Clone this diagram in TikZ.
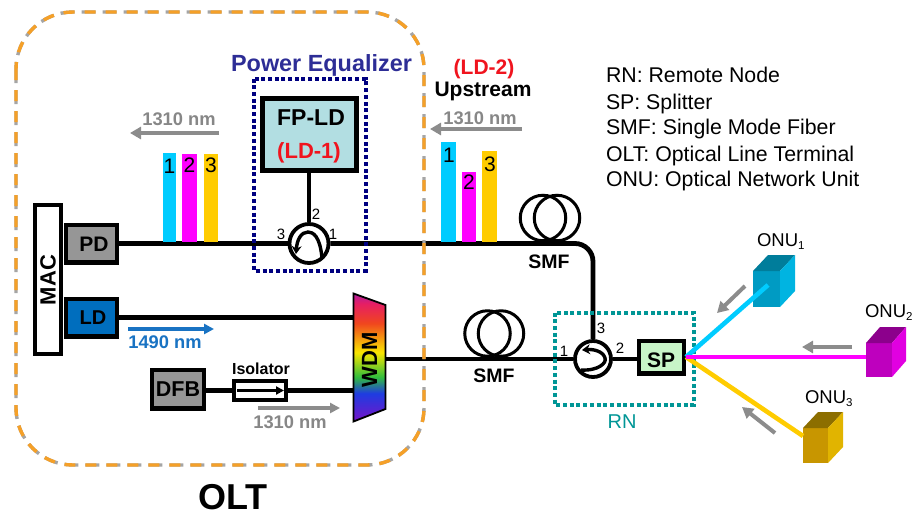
\documentclass[tikz,border=0pt]{standalone}
\usepackage{fontspec}
\setmainfont{Liberation Sans}
\usetikzlibrary{arrows.meta}
\newcommand{\fs}[1]{\fontsize{#1}{#1}\selectfont}
\definecolor{olor}{RGB}{245,160,40}
\definecolor{olgray}{RGB}{165,165,165}
\definecolor{pwnavy}{RGB}{0,0,128}
\definecolor{pwtxt}{RGB}{45,45,150}
\definecolor{rnteal}{RGB}{0,150,150}
\definecolor{agray}{RGB}{140,140,140}
\definecolor{tgray}{RGB}{135,135,135}
\definecolor{fpfill}{RGB}{178,222,226}
\definecolor{spfill}{RGB}{200,245,200}
\definecolor{boxgray}{RGB}{150,150,150}
\definecolor{ldblue}{RGB}{0,110,190}
\definecolor{txtblue}{RGB}{25,115,195}
\definecolor{barc}{RGB}{0,204,255}
\definecolor{barm}{RGB}{255,0,255}
\definecolor{bary}{RGB}{255,204,0}
\definecolor{ldred}{RGB}{240,20,30}
\definecolor{wa}{RGB}{120,20,200}
\definecolor{wb}{RGB}{30,60,225}
\definecolor{wc}{RGB}{50,190,60}
\definecolor{wd}{RGB}{250,230,0}
\definecolor{we}{RGB}{240,70,30}
\definecolor{wf}{RGB}{230,30,100}
\definecolor{wg}{RGB}{175,30,160}
\pgfdeclareverticalshading{wdmrainbow}{100bp}{
 color(0bp)=(wa);
 color(25bp)=(wa);
 color(36bp)=(wb);
 color(42.4bp)=(wc);
 color(52bp)=(wd);
 color(63.4bp)=(we);
 color(71bp)=(wf);
 color(75bp)=(wg);
 color(100bp)=(wg)}
\tikzset{
 lab/.style={inner sep=0pt,outer sep=0pt,anchor=base},
 labw/.style={inner sep=0pt,outer sep=0pt,anchor=base west},
 bx/.style={draw=black,line width=4.4,inner sep=0pt},
 fiber/.style={draw=black,line width=4.8},
 coil/.style={circle,draw=black,line width=3,minimum size=45.5,inner sep=0pt},
 circu/.style={circle,draw=black,line width=3.8,fill=white,inner sep=0pt},
 sarrow/.style={line width=4,-{Triangle[length=11pt,width=12pt]}},
 barrow/.style={line width=3.4,-{Triangle[length=10pt,width=10pt]}},
 inarrow/.style={draw=black,line width=3.4,-{Stealth[length=8pt,width=10pt]}},
 fan/.style={line width=4.6},
 digit/.style={lab,font=\fs{21}},
 small/.style={lab,font=\fs{15}},
 legend/.style={labw,font=\fs{21.3}},
 front/.style={inner sep=0pt,outer sep=0pt,anchor=north west}
}
\begin{document}
\begin{tikzpicture}[x=1pt,y=-1pt]
\useasboundingbox[fill=white] (0,0) rectangle (913,515);
% boxes
\node[bx,fill=white,minimum width=25.6,minimum height=148.6] (mac) at (48,279.5) {};
\node[bx,fill=boxgray,minimum width=50.6,minimum height=37.6] (pd) at (91.5,243.5) {};
\node[bx,fill=ldblue,minimum width=50.6,minimum height=37.6] (ld) at (91.5,317.5) {};
\node[bx,line width=5,fill=fpfill,minimum width=94,minimum height=72] (fp) at (309,134.5) {};
\node[bx,fill=boxgray,minimum width=51.6,minimum height=38.6] (dfb) at (178,389) {};
\node[bx,line width=3.6,fill=white,minimum width=52.4,minimum height=19.4] (iso) at (260,390.5) {};
\node[bx,fill=spfill,minimum width=44.6,minimum height=32.6] (sp) at (661.5,357) {};
\node[circu,minimum size=39] (c1) at (309,243.5) {};
\node[circu,minimum size=36] (c2) at (593,359) {};
% WDM
\shadedraw[shading=wdmrainbow,draw=black,line width=1.8] (353.5,293.5) -- (385.5,305) -- (385.5,409) -- (353.5,421.5) -- cycle;
\node[inner sep=0pt,minimum width=32,minimum height=128] (wdm) at (369.5,359) {};
% fibres
\draw[fiber] (pd.east) -- (c1.west);
\draw[fiber] (fp.south) -- (c1.north);
\draw[fiber,rounded corners=18] (c1.east) -- (c2.north |- c1.east) -- (c2.north);
\draw[fiber] (ld.east) -- (ld.east -| wdm.west);
\draw[fiber] (dfb.east |- iso.west) -- (iso.west);
\draw[fiber] (iso.east) -- (iso.east -| wdm.west);
\draw[fiber] (wdm.east) -- (c2.west);
\draw[fiber] (c2.east) -- (c2.east -| sp.west);
% coils
\node[coil] (coilA) at (543,218) {};
\node[coil] (coilB) at (557,218) {};
\node[coil] (coilC) at (487.5,333.5) {};
\node[coil] (coilD) at (501,333.5) {};
% circulator arcs
\draw[inarrow] (322,258) .. controls (320,236) and (313,232) .. (308,232) .. controls (301,232) and (297,240) .. (296,254);
\draw[inarrow] (581,370) .. controls (598,371) and (607,363) .. (605,358) .. controls (603,351) and (593,349) .. (582,350);
% spectrum bars
\fill[barc] (163,153) rectangle (176,242);
\fill[barm] (182,154) rectangle (197,242);
\fill[bary] (204,154) rectangle (218,242);
\fill[barc] (441,142) rectangle (456,242);
\fill[barm] (462,172) rectangle (476,242);
\fill[bary] (482,151) rectangle (497,242);
% frames
\draw[olgray,line width=3.4,rounded corners=57,dash pattern=on 14pt off 7pt] (16,12) rectangle (424,465);
\draw[olor,line width=3.4,rounded corners=57,dash pattern=on 11pt off 10pt] (16,12) rectangle (424,465);
\draw[pwnavy,line width=4,dash pattern=on 4pt off 2.7pt] (253.5,78.5) rectangle (365.5,270.5);
\draw[rnteal,line width=4,dash pattern=on 4pt off 2.7pt] (554.5,312.5) rectangle (693.5,404.5);
% ONU cubes
\node[front,fill={rgb,255:red,0;green,155;blue,195},minimum width=27,minimum height=36] (onu1) at (753,271) {};
\fill[fill={rgb,255:red,0;green,125;blue,155}] (onu1.north west) -- ++(15,-16) -- ++(27,0) -- (onu1.north east) -- cycle;
\fill[fill={rgb,255:red,0;green,180;blue,225}] (onu1.north east) -- ++(15,-16) -- ++(0,36) -- (onu1.south east) -- cycle;
\node[front,fill={rgb,255:red,190;green,0;blue,190},minimum width=26,minimum height=34] (onu2) at (866,343) {};
\fill[fill={rgb,255:red,140;green,0;blue,140}] (onu2.north west) -- ++(14,-16) -- ++(26,0) -- (onu2.north east) -- cycle;
\fill[fill={rgb,255:red,225;green,0;blue,225}] (onu2.north east) -- ++(14,-16) -- ++(0,34) -- (onu2.south east) -- cycle;
\node[front,fill={rgb,255:red,200;green,150;blue,0},minimum width=25,minimum height=35] (onu3) at (803,428) {};
\fill[fill={rgb,255:red,140;green,110;blue,0}] (onu3.north west) -- ++(15,-16) -- ++(25,0) -- (onu3.north east) -- cycle;
\fill[fill={rgb,255:red,225;green,180;blue,0}] (onu3.north east) -- ++(15,-16) -- ++(0,35) -- (onu3.south east) -- cycle;
\coordinate (onu1in) at (768,285);
\coordinate (onu3in) at (803,436);
% fan
\draw[fan,barc] (sp.east) -- (onu1in);
\draw[fan,bary] (sp.east) -- (onu3in);
\draw[fan,barm] (sp.east) -- (sp.east -| onu2.west);
% signal arrows
\coordinate (a1s) at (219,133); \coordinate (a1e) at (130,133);
\coordinate (a2s) at (522,129); \coordinate (a2e) at (430,129);
\coordinate (a3s) at (258,408); \coordinate (a3e) at (340,408);
\coordinate (a4s) at (128,329); \coordinate (a4e) at (214,329);
\coordinate (a5s) at (745,286); \coordinate (a5e) at (717,313);
\coordinate (a6s) at (852,347); \coordinate (a6e) at (802,347);
\coordinate (a7s) at (775,433); \coordinate (a7e) at (742,407);
\draw[sarrow,agray] (a1s) -- (a1e);
\draw[sarrow,agray] (a2s) -- (a2e);
\draw[barrow,agray] (a3s) -- (a3e);
\draw[barrow,txtblue] (a4s) -- (a4e);
\draw[sarrow,agray] (a5s) -- (a5e);
\draw[sarrow,agray] (a6s) -- (a6e);
\draw[sarrow,agray] (a7s) -- (a7e);
% isolator inner arrow
\coordinate (isoa) at (237,390.5); \coordinate (isob) at (284,390.5);
\draw[line width=2.2,-{Triangle[length=8pt,width=8pt]}] (isoa) -- (isob);
% texts
\node[inner sep=0pt,rotate=90,font=\fs{22}\bfseries] (tmac) at (48,280) {MAC};
\node[inner sep=0pt,rotate=90,font=\fs{22}\bfseries] (twdm) at (369.5,360) {WDM};
\node[lab,font=\fs{21}\bfseries] (tpd) at (94,251.5) {PD};
\node[lab,font=\fs{20}\bfseries] (tld) at (93,324.5) {LD};
\node[lab,font=\fs{21.5}\bfseries] (tdfb) at (178,396) {DFB};
\node[lab,font=\fs{16}\bfseries] (tiso) at (261,374) {Isolator};
\node[lab,font=\fs{18.3}\bfseries,text=tgray] (t1310c) at (290,428) {1310 nm};
\node[lab,font=\fs{18.3}\bfseries,text=txtblue] (t1490) at (165,348) {1490 nm};
\node[lab,font=\fs{36}\bfseries] (tolt) at (233,509) {OLT};
\node[lab,font=\fs{23.4}\bfseries,text=pwtxt] (tpe) at (321.5,71) {Power Equalizer};
\node[lab,font=\fs{18.3}\bfseries,text=tgray] (t1310a) at (179,125) {1310 nm};
\node[lab,font=\fs{18.3}\bfseries,text=tgray] (t1310b) at (480,124) {1310 nm};
\node[lab,font=\fs{23}\bfseries] (tfp) at (311,125) {FP-LD};
\node[lab,font=\fs{22}\bfseries,text=ldred] (tld1) at (309,158) {(LD-1)};
\node[lab,font=\fs{21}\bfseries,text=ldred] (tld2) at (484,74) {(LD-2)};
\node[lab,font=\fs{21}\bfseries] (tup) at (483,96) {Upstream};
\node[digit] (d1a) at (169.5,173) {1};
\node[digit] (d2a) at (189.5,172) {2};
\node[digit] (d3a) at (211,172) {3};
\node[digit] (d1b) at (449,162) {1};
\node[digit] (d2b) at (469,189) {2};
\node[digit] (d3b) at (490,171) {3};
\node[small] (p2a) at (316,219) {2};
\node[small] (p3a) at (281,239) {3};
\node[small] (p1a) at (333,239) {1};
\node[small] (p1b) at (564,356) {1};
\node[small] (p2b) at (620,353) {2};
\node[small] (p3b) at (601,333) {3};
\node[lab,font=\fs{19.5}\bfseries] (tsmfa) at (549,268) {SMF};
\node[lab,font=\fs{19.5}\bfseries] (tsmfb) at (494,382) {SMF};
\node[lab,font=\fs{21}\bfseries] (tsp) at (661,367) {SP};
\node[lab,font=\fs{20},text=rnteal] (trn) at (622,428) {RN};
\node[labw,font=\fs{18.5}] (to1) at (757,246) {ONU\raisebox{-3pt}{\fs{11.5}1}};
\node[labw,font=\fs{18.5}] (to2) at (865,317) {ONU\raisebox{-3pt}{\fs{11.5}2}};
\node[labw,font=\fs{18.5}] (to3) at (805,403) {ONU\raisebox{-3pt}{\fs{11.5}3}};
\node[legend] (l1) at (606,82) {RN: Remote Node};
\node[legend] (l2) at (606,109) {SP: Splitter};
\node[legend] (l3) at (606,134) {SMF: Single Mode Fiber};
\node[legend] (l4) at (606,161) {OLT: Optical Line Terminal};
\node[legend] (l5) at (606,186) {ONU: Optical Network Unit};
\end{tikzpicture}
\end{document}
